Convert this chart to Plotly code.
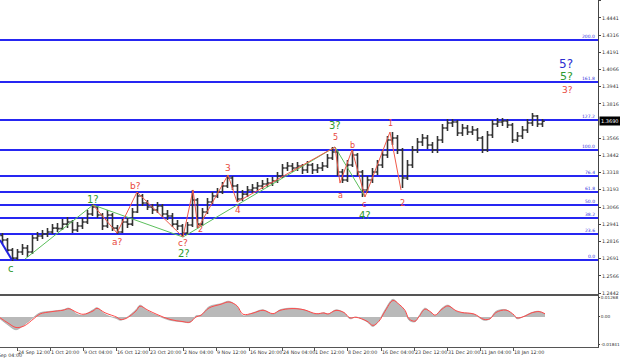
import plotly.graph_objects as go

# ---------------- data ----------------
closes = [1.2827,1.2754,1.2696,1.2740,1.2769,1.2740,1.2842,1.2856,1.2871,1.2885,
          1.2914,1.2910,1.2943,1.2958,1.2900,1.2929,1.2958,1.3016,1.3067,1.3009,
          1.2929,1.3009,1.2914,1.2885,1.2958,1.2943,1.3031,1.3147,1.3096,1.3067,
          1.3045,1.3074,1.3016,1.3002,1.2943,1.2929,1.2878,1.2936,1.3118,1.2943,
          1.3031,1.3103,1.3147,1.3176,1.3220,1.3278,1.3220,1.3125,1.3161,1.3191,
          1.3205,1.3220,1.3234,1.3241,1.3256,1.3292,1.3350,1.3365,1.3350,1.3365,
          1.3336,1.3372,1.3336,1.3350,1.3365,1.3423,1.3467,1.3321,1.3263,1.3372,
          1.3445,1.3321,1.3191,1.3263,1.3321,1.3372,1.3445,1.3554,1.3568,1.3481,
          1.3278,1.3372,1.3481,1.3539,1.3568,1.3518,1.3481,1.3554,1.3641,1.3677,
          1.3685,1.3605,1.3641,1.3612,1.3627,1.3568,1.3481,1.3590,1.3670,1.3685,
          1.3692,1.3663,1.3554,1.3583,1.3627,1.3677,1.3728,1.3670,1.3690]
highs = [1.2878,1.2842,1.2769,1.2762,1.2798,1.2791,1.2864,1.2885,1.2900,1.2914,
         1.2943,1.2951,1.2980,1.2994,1.2973,1.2958,1.2987,1.3045,1.3089,1.3074,
         1.3023,1.3045,1.3023,1.2936,1.2980,1.2987,1.3060,1.3176,1.3161,1.3118,
         1.3089,1.3103,1.3089,1.3045,1.3023,1.2973,1.2943,1.2958,1.3191,1.3132,
         1.3060,1.3132,1.3176,1.3205,1.3249,1.3300,1.3292,1.3234,1.3191,1.3220,
         1.3234,1.3249,1.3263,1.3278,1.3285,1.3321,1.3379,1.3394,1.3387,1.3394,
         1.3379,1.3401,1.3387,1.3379,1.3394,1.3452,1.3503,1.3481,1.3343,1.3409,
         1.3481,1.3459,1.3336,1.3292,1.3350,1.3409,1.3481,1.3583,1.3612,1.3590,
         1.3496,1.3409,1.3510,1.3568,1.3598,1.3590,1.3539,1.3583,1.3670,1.3707,
         1.3707,1.3699,1.3670,1.3663,1.3656,1.3641,1.3583,1.3619,1.3699,1.3714,
         1.3714,1.3707,1.3677,1.3612,1.3656,1.3707,1.3750,1.3736,1.3707]
lows = [1.2798,1.2740,1.2675,1.2682,1.2718,1.2703,1.2725,1.2820,1.2834,1.2849,
        1.2871,1.2885,1.2900,1.2914,1.2878,1.2885,1.2907,1.2943,1.3002,1.2987,
        1.2900,1.2914,1.2893,1.2871,1.2878,1.2914,1.2929,1.3023,1.3074,1.3045,
        1.3016,1.3023,1.2994,1.2973,1.2922,1.2900,1.2849,1.2864,1.2922,1.2914,
        1.2929,1.3016,1.3089,1.3132,1.3161,1.3205,1.3191,1.3103,1.3111,1.3140,
        1.3169,1.3183,1.3198,1.3212,1.3220,1.3241,1.3278,1.3329,1.3321,1.3329,
        1.3307,1.3314,1.3307,1.3314,1.3329,1.3350,1.3409,1.3292,1.3241,1.3249,
        1.3358,1.3292,1.3140,1.3169,1.3241,1.3300,1.3350,1.3423,1.3518,1.3452,
        1.3205,1.3263,1.3350,1.3459,1.3510,1.3489,1.3459,1.3459,1.3532,1.3619,
        1.3648,1.3583,1.3583,1.3590,1.3590,1.3547,1.3459,1.3467,1.3568,1.3648,
        1.3656,1.3641,1.3532,1.3539,1.3561,1.3605,1.3656,1.3648,1.3648]
opens = [1.2860] + closes[:-1]
bars = list(range(len(closes)))

# Fibonacci grid
fib_levels = [0.0, 23.6, 38.2, 50.0, 61.8, 76.4, 100.0, 127.2, 161.8, 200.0]
fib_low, fib_high = 1.2682, 1.3481

# price axis ticks
price_ticks = [1.4566,1.4441,1.4316,1.4191,1.4066,1.3941,1.3816,1.3566,1.3442,
               1.3318,1.3193,1.3066,1.2941,1.2816,1.2691,1.2566,1.2442]
last_price = 1.3690

# time axis
date_ticks = [2.9, 9.5, 16.1, 22.7, 29.3, 36.1, 42.7, 49.3, 55.9, 62.3, 68.9,
              75.7, 82.3, 88.9, 95.5, 102.1]
date_labels = ["24 Sep 12:00","1 Oct 20:00","9 Oct 04:00","16 Oct 12:00",
               "23 Oct 20:00","2 Nov 04:00","9 Nov 12:00","16 Nov 20:00",
               "24 Nov 04:00","1 Dec 12:00","8 Dec 20:00","16 Dec 04:00",
               "23 Dec 12:00","31 Dec 20:00","11 Jan 04:00","18 Jan 12:00"]
first_label = "17 Sep 04:00"

# wave lines
blue_x, blue_y = [-0.5, 1.9], [1.2827, 1.2682]
green_x = [4.5, 18.1, 36.1, 66.5, 72.5]
green_y = [1.2689, 1.3082, 1.2849, 1.3503, 1.3140]
red_x = [18.1, 22.9, 26.9, 36.1, 38.1, 39.1, 45.1, 46.9, 66.5, 67.5, 69.9, 72.5, 77.5, 79.7]
red_y = [1.3082, 1.2878, 1.3176, 1.2849, 1.3191, 1.2914, 1.3300, 1.3103, 1.3503,
         1.3241, 1.3481, 1.3140, 1.3612, 1.3191]

# wave labels: (text, x, y, color, size)
GREEN, RED, BLUE = "#2f9a2f", "#e8483c", "#2b2bd0"
wave_labels = [
    ("c", 1.7, 1.2624, GREEN, 10), ("1?", 18.1, 1.3125, GREEN, 10),
    ("a?", 22.9, 1.2810, RED, 9), ("b?", 26.5, 1.3222, RED, 9),
    ("c?", 36.1, 1.2803, RED, 9), ("2?", 36.3, 1.2728, GREEN, 10),
    ("2", 39.5, 1.2905, RED, 8), ("3", 45.1, 1.3352, RED, 9),
    ("4", 47.1, 1.3043, RED, 9), ("3?", 66.5, 1.3662, GREEN, 10),
    ("5", 66.5, 1.3572, RED, 8), ("a", 67.5, 1.3152, RED, 8),
    ("b", 69.9, 1.3512, RED, 8), ("c", 72.3, 1.3085, RED, 8),
    ("4?", 72.5, 1.3006, GREEN, 10), ("1", 77.5, 1.3672, RED, 8),
    ("2", 79.9, 1.3094, RED, 8),
    ("5?", 112.7, 1.4106, BLUE, 12), ("5?", 112.7, 1.4014, GREEN, 11),
    ("3?", 112.9, 1.3917, RED, 9),
]

# oscillator
osc_x = [-0.5,1.1,2.7,4.3,6.3,7.5,9.7,12.1,13.3,14.9,
         16.1,18.1,18.9,20.5,22.9,23.5,24.7,26.7,27.5,29.1,
         31.1,33.5,35.9,37.5,38.7,39.7,41.3,43.7,45.3,46.9,
         48.1,50.1,52.1,54.1,55.5,57.9,60.3,62.7,64.3,65.1,
         66.7,68.3,69.5,70.7,72.9,74.1,75.3,76.5,78.1,79.3,
         80.5,81.3,82.5,83.3,84.5,85.7,86.5,87.9,89.1,90.7,
         91.9,94.3,96.3,97.5,98.7,100.7,102.3,102.9,104.5,105.7,
         107.3,108.5]
osc_hist = [-0.0012,-0.0053,-0.0085,-0.0053,0.0000,0.0028,0.0038,0.0048,0.0059,0.0018,
            0.0012,0.0048,0.0062,0.0018,-0.0012,-0.0022,-0.0006,0.0048,0.0079,0.0038,
            0.0008,-0.0022,-0.0032,-0.0036,0.0008,0.0012,0.0069,0.0089,0.0105,0.0069,
            0.0008,0.0028,0.0048,0.0018,0.0048,0.0059,0.0048,0.0018,0.0028,0.0018,
            0.0048,0.0028,-0.0012,0.0000,-0.0032,-0.0063,-0.0022,0.0048,0.0118,0.0079,
            0.0038,-0.0022,-0.0032,0.0008,0.0059,0.0028,0.0008,0.0059,0.0079,0.0038,
            0.0028,0.0018,-0.0022,-0.0012,0.0038,0.0048,0.0008,-0.0012,0.0008,0.0028,
            0.0038,0.0018]
osc_signal = [-0.0005,-0.0040,-0.0070,-0.0060,-0.0010,0.0020,0.0035,0.0045,0.0055,0.0030,
              0.0018,0.0040,0.0058,0.0028,-0.0002,-0.0016,-0.0010,0.0040,0.0072,0.0045,
              0.0014,-0.0016,-0.0030,-0.0034,0.0000,0.0012,0.0060,0.0085,0.0100,0.0075,
              0.0018,0.0026,0.0045,0.0022,0.0044,0.0056,0.0048,0.0022,0.0027,0.0020,
              0.0044,0.0030,-0.0006,-0.0002,-0.0028,-0.0056,-0.0028,0.0038,0.0110,0.0085,
              0.0045,-0.0012,-0.0028,0.0002,0.0052,0.0032,0.0012,0.0052,0.0074,0.0042,
              0.0030,0.0020,-0.0016,-0.0012,0.0030,0.0046,0.0014,-0.0006,0.0006,0.0026,
              0.0036,0.0022]
osc_ticks = [0.01268, 0.0, -0.01841]
osc_labels = ["0.01268", "0.00", "-0.01841"]

# ---------------- figure ----------------
FONT = "DejaVu Sans"
fig = go.Figure()

fig.add_trace(go.Ohlc(x=bars, open=opens, high=highs, low=lows, close=closes,
                      increasing=dict(line=dict(color="#333333", width=1.6)),
                      decreasing=dict(line=dict(color="#333333", width=1.6)),
                      tickwidth=0.45, xaxis="x", yaxis="y", hoverinfo="skip"))

fig.add_trace(go.Scatter(x=blue_x, y=blue_y, mode="lines",
                         line=dict(color="#2323e0", width=2), xaxis="x", yaxis="y"))
fig.add_trace(go.Scatter(x=green_x, y=green_y, mode="lines",
                         line=dict(color="#5cbf5c", width=1), xaxis="x", yaxis="y"))
fig.add_trace(go.Scatter(x=red_x, y=red_y, mode="lines",
                         line=dict(color="#f05a4a", width=1), xaxis="x", yaxis="y"))

fig.add_trace(go.Scatter(x=osc_x, y=osc_hist, mode="lines", fill="tozeroy",
                         fillcolor="#b9b9b9", line=dict(color="#9a9a9a", width=0.6, shape="spline"),
                         xaxis="x2", yaxis="y2"))
fig.add_trace(go.Scatter(x=osc_x, y=osc_signal, mode="lines",
                         line=dict(color="#ff4a4a", width=1, shape="spline"),
                         xaxis="x2", yaxis="y2"))

shapes = []
annotations = []
for lv in fib_levels:
    price = fib_low + (fib_high - fib_low) * lv / 100.0
    shapes.append(dict(type="line", xref="x domain", yref="y", x0=0, x1=1,
                       y0=price, y1=price, line=dict(color="#2626f2", width=2), layer="below"))
    annotations.append(dict(xref="x domain", yref="y", x=0.998, y=price,
                            text=f"{lv:.1f}", showarrow=False, xanchor="right",
                            yanchor="bottom", yshift=-1,
                            font=dict(family=FONT, size=4.5, color="#3333dd")))

for t, x, y, c, s in wave_labels:
    annotations.append(dict(xref="x", yref="y", x=x, y=y, text=t, showarrow=False,
                            xanchor="center", yanchor="middle",
                            font=dict(family=FONT, size=s, color=c)))

annotations.append(dict(xref="paper", yref="y", x=1.0, y=last_price, text=f"{last_price:.4f}",
                        showarrow=False, xanchor="left", yanchor="middle", xshift=1,
                        bgcolor="#000000", borderpad=1,
                        font=dict(family=FONT, size=5, color="#ffffff")))
annotations.append(dict(xref="paper", yref="paper", x=-12 / 598, y=0, yshift=-4,
                        text=first_label, showarrow=False, xanchor="left", yanchor="top",
                        font=dict(family=FONT, size=4.8, color="#333333")))

fig.update_layout(
    width=620, height=361,
    margin=dict(l=0, r=22, t=0, b=14, autoexpand=False),
    paper_bgcolor="white", plot_bgcolor="white",
    showlegend=False,
    shapes=shapes, annotations=annotations,
    xaxis=dict(domain=[0, 1], anchor="y", range=[-0.5, 119.1], showticklabels=False,
               showgrid=False, zeroline=False, showline=True, linecolor="#555555",
               linewidth=2, ticks="", rangeslider=dict(visible=False), automargin=False),
    yaxis=dict(domain=[0.1527, 1], anchor="x", side="right", range=[1.2435, 1.4571],
               tickvals=price_ticks, ticktext=[f"{v:.4f}" for v in price_ticks],
               showgrid=False, zeroline=False, showline=True, linecolor="#444444",
               linewidth=1, ticks="outside", ticklen=2, tickcolor="#444444", automargin=False,
               tickfont=dict(family=FONT, size=4.8, color="#333333")),
    xaxis2=dict(domain=[0, 1], anchor="y2", range=[-0.5, 119.1], matches="x",
                tickvals=date_ticks, ticktext=date_labels, ticklabelposition="outside right",
                tickangle=0, automargin=False,
                showgrid=False, zeroline=False, showline=True, linecolor="#555555",
                linewidth=1, ticks="outside", ticklen=3, tickcolor="#555555",
                tickfont=dict(family=FONT, size=4.8, color="#333333")),
    yaxis2=dict(domain=[0, 0.147], anchor="x2", side="right", range=[-0.0200, 0.0140],
                tickvals=osc_ticks, ticktext=osc_labels, automargin=False,
                showgrid=False, zeroline=False, showline=True, linecolor="#444444",
                linewidth=1, ticks="outside", ticklen=1, tickcolor="#444444",
                tickfont=dict(family=FONT, size=4.2, color="#333333")),
)

fig.write_html("out.html")
